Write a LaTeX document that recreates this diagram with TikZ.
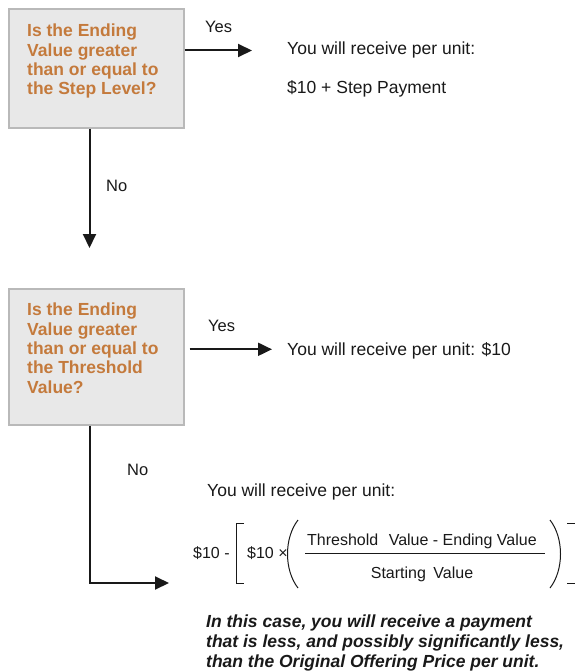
\documentclass[tikz,border=0pt]{standalone}
\usepackage{fontspec}
\setmainfont{Liberation Sans}
\usetikzlibrary{arrows.meta, positioning}
\definecolor{askorange}{RGB}{196,122,60}
\definecolor{boxgray}{RGB}{232,232,232}
\definecolor{boxline}{RGB}{185,185,185}
\definecolor{inkgray}{RGB}{25,25,25}

\begin{document}
\begin{tikzpicture}[x=1pt, y=-1pt,
  qbox/.style  = {draw=boxline, line width=1.6pt, fill=boxgray, minimum width=175pt, anchor=north west, inner sep=0pt},
  qtext/.style = {anchor=north west, align=left, inner sep=0pt, text=askorange, font=\fontsize{17.5pt}{19.3pt}\selectfont\bfseries},
  ans/.style   = {anchor=base west, inner sep=0pt, text=inkgray, font=\fontsize{17.5pt}{20pt}\selectfont},
  lbl/.style   = {anchor=base west, inner sep=0pt, text=inkgray, font=\fontsize{16.5pt}{19pt}\selectfont},
  eq/.style    = {anchor=base west, inner sep=0pt, text=inkgray, font=\fontsize{16pt}{19pt}\selectfont},
  flow/.style  = {draw=inkgray, line width=2pt, -{Triangle[length=14pt, width=13pt]}},
  delim/.style = {draw=inkgray, line width=1pt},
]
\useasboundingbox (0,0) rectangle (574,671);

%--- Nodes ---
% first question
\node[qbox, minimum height=119pt] (q1) at (8,8) {};
\node[qtext] (q1txt) at (27,24.1) {Is the Ending\\Value greater\\than or equal to\\the Step Level?};

% second question
\node[qbox, minimum height=136pt] (q2) at (8,288) {};
\node[qtext] (q2txt) at (27,303.1) {Is the Ending\\Value greater\\than or equal to\\the Threshold\\Value?};

% payments
\node[ans] (pay1)  at (287,55)   {You will receive per unit:};
\node[ans] (pay1b) at (287,93.3) {\$10 + Step Payment};
\node[ans] (pay2)  at (287,355)  {You will receive per unit: \$10};
\node[ans] (pay3)  at (207,496)  {You will receive per unit:};

% labels
\node[lbl] (yes1) at (205,33)    {Yes};
\node[lbl] (no1)  at (106,191.7) {No};
\node[lbl] (yes2) at (208,331.7) {Yes};
\node[lbl] (no2)  at (127,475)   {No};

%--- Formula ---
\node[eq] (ten)    at (193,558) {\$10 -};
\node[eq] (tenx)   at (247,558) {\$10 ×};
\node[eq] (numer)  at (307,545) {Threshold\hspace{6pt} Value - Ending Value};
\node[eq, anchor=base] (denom) at (422,578) {Starting\hspace{3pt} Value};
\draw[delim] (244,523) -- (236,523) -- (236,583) -- (244,583);
\draw[delim] (298,520) .. controls (284,538) and (284,570) .. (298,588);
\draw[delim] (305,553) -- (545,553);
\draw[delim] (550,520) .. controls (564,538) and (564,570) .. (550,588);
\draw[delim] (567,523) -- (576,523) -- (576,583) -- (567,583);

% note
\node[anchor=north west, align=left, inner sep=0pt, text=inkgray,
      font=\fontsize{17.5pt}{20pt}\selectfont\bfseries\itshape] (caveat) at (206,614.5)
  {In this case, you will receive a payment\\that is less, and possibly significantly less,\\than the Original Offering Price per unit.};

%--- Connectors ---
\coordinate (yes1tip) at (252,50.5);
\draw[flow] (q1.east |- yes1tip) -- (yes1tip);

\coordinate (no1tip) at (89.5,248);
\draw[flow] (q1.south -| no1tip) -- (no1tip);

\coordinate (yes2tip) at (272,349.3);
\draw[flow] ([xshift=5pt]q2.east |- yes2tip) -- (yes2tip);

\coordinate (no2corner) at (90,583);
\coordinate (no2tip) at (169,583);
\draw[flow] (q2.south -| no2corner) -- (no2corner) -- (no2tip);

\end{tikzpicture}
\end{document}
